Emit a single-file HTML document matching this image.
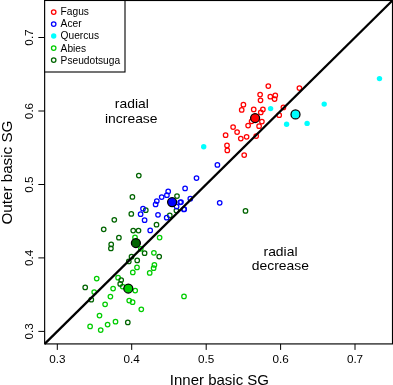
<!DOCTYPE html>
<html><head><meta charset="utf-8"><style>html,body{margin:0;padding:0;background:#fff}body{width:393px;height:385px;overflow:hidden}</style></head><body>
<svg width="393" height="385" viewBox="0 0 393 385" style="display:block;will-change:transform;font-family:'Liberation Sans',sans-serif">
<circle cx="159.6" cy="237.5" r="2.25" fill="none" stroke="#00cd00" stroke-width="1.25"/>
<circle cx="135" cy="237.4" r="2.25" fill="none" stroke="#00cd00" stroke-width="1.25"/>
<circle cx="140.8" cy="248.8" r="2.25" fill="none" stroke="#00cd00" stroke-width="1.25"/>
<circle cx="153.9" cy="252.8" r="2.25" fill="none" stroke="#00cd00" stroke-width="1.25"/>
<circle cx="154.4" cy="264.9" r="2.25" fill="none" stroke="#00cd00" stroke-width="1.25"/>
<circle cx="153.6" cy="268.2" r="2.25" fill="none" stroke="#00cd00" stroke-width="1.25"/>
<circle cx="137" cy="267.4" r="2.25" fill="none" stroke="#00cd00" stroke-width="1.25"/>
<circle cx="132.8" cy="272.4" r="2.25" fill="none" stroke="#00cd00" stroke-width="1.25"/>
<circle cx="149.7" cy="272.9" r="2.25" fill="none" stroke="#00cd00" stroke-width="1.25"/>
<circle cx="96.7" cy="278.6" r="2.25" fill="none" stroke="#00cd00" stroke-width="1.25"/>
<circle cx="118.1" cy="277.7" r="2.25" fill="none" stroke="#00cd00" stroke-width="1.25"/>
<circle cx="113.1" cy="288.6" r="2.25" fill="none" stroke="#00cd00" stroke-width="1.25"/>
<circle cx="122.6" cy="286.5" r="2.25" fill="none" stroke="#00cd00" stroke-width="1.25"/>
<circle cx="135.2" cy="290.5" r="2.25" fill="none" stroke="#00cd00" stroke-width="1.25"/>
<circle cx="94.2" cy="292.1" r="2.25" fill="none" stroke="#00cd00" stroke-width="1.25"/>
<circle cx="110.4" cy="296.6" r="2.25" fill="none" stroke="#00cd00" stroke-width="1.25"/>
<circle cx="129.2" cy="300.5" r="2.25" fill="none" stroke="#00cd00" stroke-width="1.25"/>
<circle cx="132.6" cy="302.2" r="2.25" fill="none" stroke="#00cd00" stroke-width="1.25"/>
<circle cx="105.1" cy="304.3" r="2.25" fill="none" stroke="#00cd00" stroke-width="1.25"/>
<circle cx="99.5" cy="315.5" r="2.25" fill="none" stroke="#00cd00" stroke-width="1.25"/>
<circle cx="115.5" cy="321.7" r="2.25" fill="none" stroke="#00cd00" stroke-width="1.25"/>
<circle cx="107.6" cy="324.5" r="2.25" fill="none" stroke="#00cd00" stroke-width="1.25"/>
<circle cx="90.1" cy="326.4" r="2.25" fill="none" stroke="#00cd00" stroke-width="1.25"/>
<circle cx="100.7" cy="330" r="2.25" fill="none" stroke="#00cd00" stroke-width="1.25"/>
<circle cx="141.3" cy="309.3" r="2.25" fill="none" stroke="#00cd00" stroke-width="1.25"/>
<circle cx="184" cy="296.4" r="2.25" fill="none" stroke="#00cd00" stroke-width="1.25"/>
<circle cx="138.8" cy="175.6" r="2.25" fill="none" stroke="#006400" stroke-width="1.25"/>
<circle cx="132.4" cy="196.9" r="2.25" fill="none" stroke="#006400" stroke-width="1.25"/>
<circle cx="177" cy="196.1" r="2.25" fill="none" stroke="#006400" stroke-width="1.25"/>
<circle cx="145.8" cy="210.2" r="2.25" fill="none" stroke="#006400" stroke-width="1.25"/>
<circle cx="131.3" cy="213.9" r="2.25" fill="none" stroke="#006400" stroke-width="1.25"/>
<circle cx="169.8" cy="215.4" r="2.25" fill="none" stroke="#006400" stroke-width="1.25"/>
<circle cx="176.4" cy="210.5" r="2.25" fill="none" stroke="#006400" stroke-width="1.25"/>
<circle cx="156.5" cy="224.7" r="2.25" fill="none" stroke="#006400" stroke-width="1.25"/>
<circle cx="133.2" cy="230.6" r="2.25" fill="none" stroke="#006400" stroke-width="1.25"/>
<circle cx="138.5" cy="230.5" r="2.25" fill="none" stroke="#006400" stroke-width="1.25"/>
<circle cx="118.9" cy="237.7" r="2.25" fill="none" stroke="#006400" stroke-width="1.25"/>
<circle cx="114.3" cy="219.8" r="2.25" fill="none" stroke="#006400" stroke-width="1.25"/>
<circle cx="103.7" cy="229.3" r="2.25" fill="none" stroke="#006400" stroke-width="1.25"/>
<circle cx="111.2" cy="244.4" r="2.25" fill="none" stroke="#006400" stroke-width="1.25"/>
<circle cx="110.9" cy="248.4" r="2.25" fill="none" stroke="#006400" stroke-width="1.25"/>
<circle cx="144.6" cy="253.2" r="2.25" fill="none" stroke="#006400" stroke-width="1.25"/>
<circle cx="131.5" cy="256.7" r="2.25" fill="none" stroke="#006400" stroke-width="1.25"/>
<circle cx="128.8" cy="261.4" r="2.25" fill="none" stroke="#006400" stroke-width="1.25"/>
<circle cx="137.2" cy="260.4" r="2.25" fill="none" stroke="#006400" stroke-width="1.25"/>
<circle cx="159.2" cy="256.6" r="2.25" fill="none" stroke="#006400" stroke-width="1.25"/>
<circle cx="121.2" cy="280" r="2.25" fill="none" stroke="#006400" stroke-width="1.25"/>
<circle cx="120.2" cy="283.9" r="2.25" fill="none" stroke="#006400" stroke-width="1.25"/>
<circle cx="85.2" cy="287.4" r="2.25" fill="none" stroke="#006400" stroke-width="1.25"/>
<circle cx="91.3" cy="299.7" r="2.25" fill="none" stroke="#006400" stroke-width="1.25"/>
<circle cx="127.8" cy="322.4" r="2.25" fill="none" stroke="#006400" stroke-width="1.25"/>
<circle cx="245.5" cy="210.9" r="2.25" fill="none" stroke="#006400" stroke-width="1.25"/>
<circle cx="217.4" cy="164.9" r="2.25" fill="none" stroke="#0000ff" stroke-width="1.25"/>
<circle cx="196.5" cy="178.1" r="2.25" fill="none" stroke="#0000ff" stroke-width="1.25"/>
<circle cx="185.1" cy="188.4" r="2.25" fill="none" stroke="#0000ff" stroke-width="1.25"/>
<circle cx="190.3" cy="198.7" r="2.25" fill="none" stroke="#0000ff" stroke-width="1.25"/>
<circle cx="181" cy="202.1" r="2.25" fill="none" stroke="#0000ff" stroke-width="1.25"/>
<circle cx="184.2" cy="209.2" r="2.25" fill="none" stroke="#0000ff" stroke-width="1.25"/>
<circle cx="219.7" cy="202.8" r="2.25" fill="none" stroke="#0000ff" stroke-width="1.25"/>
<circle cx="168.2" cy="191.4" r="2.25" fill="none" stroke="#0000ff" stroke-width="1.25"/>
<circle cx="166.9" cy="195.2" r="2.25" fill="none" stroke="#0000ff" stroke-width="1.25"/>
<circle cx="161.7" cy="197.1" r="2.25" fill="none" stroke="#0000ff" stroke-width="1.25"/>
<circle cx="156.8" cy="201.1" r="2.25" fill="none" stroke="#0000ff" stroke-width="1.25"/>
<circle cx="155.6" cy="204.4" r="2.25" fill="none" stroke="#0000ff" stroke-width="1.25"/>
<circle cx="180.2" cy="202.3" r="2.25" fill="none" stroke="#0000ff" stroke-width="1.25"/>
<circle cx="176.6" cy="206.5" r="2.25" fill="none" stroke="#0000ff" stroke-width="1.25"/>
<circle cx="183.9" cy="209.4" r="2.25" fill="none" stroke="#0000ff" stroke-width="1.25"/>
<circle cx="143" cy="208.7" r="2.25" fill="none" stroke="#0000ff" stroke-width="1.25"/>
<circle cx="140.6" cy="214.2" r="2.25" fill="none" stroke="#0000ff" stroke-width="1.25"/>
<circle cx="158" cy="214.8" r="2.25" fill="none" stroke="#0000ff" stroke-width="1.25"/>
<circle cx="166.7" cy="217.7" r="2.25" fill="none" stroke="#0000ff" stroke-width="1.25"/>
<circle cx="144.6" cy="220.2" r="2.25" fill="none" stroke="#0000ff" stroke-width="1.25"/>
<circle cx="150.2" cy="230.4" r="2.25" fill="none" stroke="#0000ff" stroke-width="1.25"/>
<circle cx="379.5" cy="78.6" r="2.7" fill="#00ffff"/>
<circle cx="324.2" cy="104.1" r="2.7" fill="#00ffff"/>
<circle cx="307.1" cy="123.4" r="2.7" fill="#00ffff"/>
<circle cx="286.6" cy="124.2" r="2.7" fill="#00ffff"/>
<circle cx="270.6" cy="108.6" r="2.7" fill="#00ffff"/>
<circle cx="203.7" cy="146.7" r="2.7" fill="#00ffff"/>
<circle cx="268.3" cy="86" r="2.25" fill="none" stroke="#ff0000" stroke-width="1.25"/>
<circle cx="299.4" cy="88" r="2.25" fill="none" stroke="#ff0000" stroke-width="1.25"/>
<circle cx="260.1" cy="94.5" r="2.25" fill="none" stroke="#ff0000" stroke-width="1.25"/>
<circle cx="275.3" cy="95.4" r="2.25" fill="none" stroke="#ff0000" stroke-width="1.25"/>
<circle cx="270.3" cy="96.7" r="2.25" fill="none" stroke="#ff0000" stroke-width="1.25"/>
<circle cx="274.6" cy="99" r="2.25" fill="none" stroke="#ff0000" stroke-width="1.25"/>
<circle cx="260.5" cy="100.3" r="2.25" fill="none" stroke="#ff0000" stroke-width="1.25"/>
<circle cx="243.4" cy="104.7" r="2.25" fill="none" stroke="#ff0000" stroke-width="1.25"/>
<circle cx="241.7" cy="109.9" r="2.25" fill="none" stroke="#ff0000" stroke-width="1.25"/>
<circle cx="253.7" cy="109.4" r="2.25" fill="none" stroke="#ff0000" stroke-width="1.25"/>
<circle cx="262.9" cy="109.4" r="2.25" fill="none" stroke="#ff0000" stroke-width="1.25"/>
<circle cx="260.8" cy="112.4" r="2.25" fill="none" stroke="#ff0000" stroke-width="1.25"/>
<circle cx="283.4" cy="107.4" r="2.25" fill="none" stroke="#ff0000" stroke-width="1.25"/>
<circle cx="279.2" cy="115.2" r="2.25" fill="none" stroke="#ff0000" stroke-width="1.25"/>
<circle cx="251.6" cy="121.3" r="2.25" fill="none" stroke="#ff0000" stroke-width="1.25"/>
<circle cx="261.9" cy="121.5" r="2.25" fill="none" stroke="#ff0000" stroke-width="1.25"/>
<circle cx="248.1" cy="125.6" r="2.25" fill="none" stroke="#ff0000" stroke-width="1.25"/>
<circle cx="259.1" cy="126.2" r="2.25" fill="none" stroke="#ff0000" stroke-width="1.25"/>
<circle cx="233.1" cy="127" r="2.25" fill="none" stroke="#ff0000" stroke-width="1.25"/>
<circle cx="237.1" cy="132" r="2.25" fill="none" stroke="#ff0000" stroke-width="1.25"/>
<circle cx="225.6" cy="135.2" r="2.25" fill="none" stroke="#ff0000" stroke-width="1.25"/>
<circle cx="246.6" cy="136.8" r="2.25" fill="none" stroke="#ff0000" stroke-width="1.25"/>
<circle cx="256.2" cy="136.1" r="2.25" fill="none" stroke="#ff0000" stroke-width="1.25"/>
<circle cx="240.8" cy="138.5" r="2.25" fill="none" stroke="#ff0000" stroke-width="1.25"/>
<circle cx="227" cy="145.4" r="2.25" fill="none" stroke="#ff0000" stroke-width="1.25"/>
<circle cx="227.3" cy="150.4" r="2.25" fill="none" stroke="#ff0000" stroke-width="1.25"/>
<circle cx="244.2" cy="155.1" r="2.25" fill="none" stroke="#ff0000" stroke-width="1.25"/>
<line x1="44.65" y1="343.92" x2="392.5" y2="0.5" stroke="#000" stroke-width="2.25"/>
<circle cx="255.1" cy="118" r="4.5" fill="#ff0000" stroke="#000" stroke-width="1.25"/>
<circle cx="295.5" cy="114.4" r="4.5" fill="#00ffff" stroke="#000" stroke-width="1.25"/>
<circle cx="172.1" cy="202.1" r="4.5" fill="#0000ff" stroke="#000" stroke-width="1.25"/>
<circle cx="135.9" cy="243" r="4.5" fill="#006400" stroke="#000" stroke-width="1.25"/>
<circle cx="128.3" cy="288.5" r="4.5" fill="#00cd00" stroke="#000" stroke-width="1.25"/>
<rect x="44.65" y="0.5" width="347.85" height="343.42" fill="none" stroke="#000" stroke-width="1.15"/>
<line x1="57.3" y1="343.92" x2="57.3" y2="349.92" stroke="#000" stroke-width="1"/>
<text x="57.3" y="362.7" font-size="11.7" text-anchor="middle">0.3</text>
<line x1="131.7" y1="343.92" x2="131.7" y2="349.92" stroke="#000" stroke-width="1"/>
<text x="131.7" y="362.7" font-size="11.7" text-anchor="middle">0.4</text>
<line x1="206.2" y1="343.92" x2="206.2" y2="349.92" stroke="#000" stroke-width="1"/>
<text x="206.2" y="362.7" font-size="11.7" text-anchor="middle">0.5</text>
<line x1="280.6" y1="343.92" x2="280.6" y2="349.92" stroke="#000" stroke-width="1"/>
<text x="280.6" y="362.7" font-size="11.7" text-anchor="middle">0.6</text>
<line x1="355" y1="343.92" x2="355" y2="349.92" stroke="#000" stroke-width="1"/>
<text x="355" y="362.7" font-size="11.7" text-anchor="middle">0.7</text>
<line x1="44.65" y1="331.4" x2="38.35" y2="331.4" stroke="#000" stroke-width="1"/>
<text transform="translate(33.3,331.4) rotate(-90)" font-size="11.7" text-anchor="middle">0.3</text>
<line x1="44.65" y1="257.9" x2="38.35" y2="257.9" stroke="#000" stroke-width="1"/>
<text transform="translate(33.3,257.9) rotate(-90)" font-size="11.7" text-anchor="middle">0.4</text>
<line x1="44.65" y1="184.5" x2="38.35" y2="184.5" stroke="#000" stroke-width="1"/>
<text transform="translate(33.3,184.5) rotate(-90)" font-size="11.7" text-anchor="middle">0.5</text>
<line x1="44.65" y1="111" x2="38.35" y2="111" stroke="#000" stroke-width="1"/>
<text transform="translate(33.3,111) rotate(-90)" font-size="11.7" text-anchor="middle">0.6</text>
<line x1="44.65" y1="37.5" x2="38.35" y2="37.5" stroke="#000" stroke-width="1"/>
<text transform="translate(33.3,37.5) rotate(-90)" font-size="11.7" text-anchor="middle">0.7</text>
<text transform="translate(219.4,384.6) scale(1.05,1)" font-size="14.3" text-anchor="middle">Inner basic SG</text>
<text transform="translate(11.8,172.6) rotate(-90) scale(1.05,1)" font-size="14.5" text-anchor="middle">Outer basic SG</text>
<text transform="translate(131.8,108.3) scale(1.053,1)" font-size="13.2" text-anchor="middle">radial</text>
<text transform="translate(131.3,122.7) scale(1.053,1)" font-size="13.2" text-anchor="middle">increase</text>
<text transform="translate(280.5,255.8) scale(1.053,1)" font-size="13.2" text-anchor="middle">radial</text>
<text transform="translate(280.3,270.2) scale(1.053,1)" font-size="13.2" text-anchor="middle">decrease</text>
<rect x="44.65" y="0.5" width="80.35" height="71.5" fill="#fff" stroke="#000" stroke-width="1.1"/>
<circle cx="53.7" cy="12" r="2.25" fill="none" stroke="#ff0000" stroke-width="1.25"/>
<text x="60.6" y="15" font-size="10.2">Fagus</text>
<circle cx="53.7" cy="24" r="2.25" fill="none" stroke="#0000ff" stroke-width="1.25"/>
<text x="60.6" y="27" font-size="10.2">Acer</text>
<circle cx="53.7" cy="36" r="2.7" fill="#00ffff"/>
<text x="60.6" y="39" font-size="10.2">Quercus</text>
<circle cx="53.7" cy="48" r="2.25" fill="none" stroke="#00cd00" stroke-width="1.25"/>
<text x="60.6" y="52" font-size="10.2">Abies</text>
<circle cx="53.7" cy="60" r="2.25" fill="none" stroke="#006400" stroke-width="1.25"/>
<text x="60.6" y="64" font-size="10.2">Pseudotsuga</text>
</svg>
</body></html>
